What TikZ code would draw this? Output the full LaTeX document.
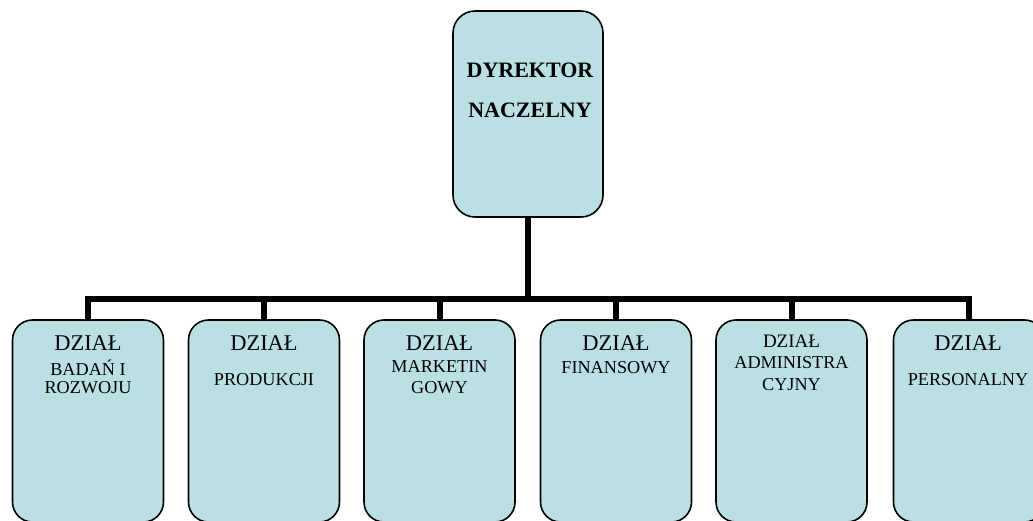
\documentclass[tikz,border=0pt]{standalone}
\usepackage{fontspec}
\setmainfont{Liberation Serif}
\definecolor{boxfill}{RGB}{186,224,228}
\begin{document}
\begin{tikzpicture}[x=1pt,y=-1pt,
  unit/.style={draw=black, line width=1.6pt, fill=boxfill, rounded corners=20pt, inner sep=0pt, minimum width=151pt, minimum height=202pt},
  conn/.style={line width=6pt, line join=miter, line cap=butt},
  lbl/.style={anchor=base, inner sep=0pt},
  big/.style={font=\fontsize{22.5}{26}\selectfont},
  mid/.style={font=\fontsize{19}{23}\selectfont},
  sml/.style={font=\fontsize{18.2}{22}\selectfont},
  head/.style={font=\fontsize{22}{25}\selectfont\bfseries}]
\useasboundingbox (0,0) rectangle (1033,521);
% boxes
\node[unit, minimum width=150pt, minimum height=206pt, rounded corners=22pt] (top) at (528,114) {};
\node[unit] (b1) at (88,421) {};
\node[unit] (b2) at (264,421) {};
\node[unit] (b3) at (439.5,421) {};
\node[unit] (b4) at (616,421) {};
\node[unit] (b5) at (791.5,421) {};
\node[unit] (b6) at (969,421) {};
% connectors
\coordinate (bus) at (528,299);
\draw[conn] (top.south) -- (bus);
\draw[conn] (bus) -| (b1.north);
\draw[conn] (bus) -| (b2.north);
\draw[conn] (bus) -| (b3.north);
\draw[conn] (bus) -| (b4.north);
\draw[conn] (bus) -| (b5.north);
\draw[conn] (bus) -| (b6.north);
% texts
\node[lbl, head] (t1) at (530,78) {DYREKTOR};
\node[lbl, head] (t2) at (530,118) {NACZELNY};
\node[lbl, big] (a1) at (88,350) {DZIAŁ};
\node[lbl, sml] (a2) at (88,375) {BADAŃ I};
\node[lbl, sml] (a3) at (88,393) {ROZWOJU};
\node[lbl, big] (c1) at (264,350) {DZIAŁ};
\node[lbl, sml] (c2) at (264,385) {PRODUKCJI};
\node[lbl, big] (d1) at (439.5,350) {DZIAŁ};
\node[lbl, sml] (d2) at (439.5,372) {MARKETIN};
\node[lbl, sml] (d3) at (439.5,393) {GOWY};
\node[lbl, big] (e1) at (616,350) {DZIAŁ};
\node[lbl, sml] (e2) at (616,373) {FINANSOWY};
\node[lbl, mid] (f1) at (791.5,347) {DZIAŁ};
\node[lbl, sml] (f2) at (791.5,368) {ADMINISTRA};
\node[lbl, sml] (f3) at (791.5,390) {CYJNY};
\node[lbl, big] (g1) at (968,350) {DZIAŁ};
\node[lbl, sml] (g2) at (968,385) {PERSONALNY};
\end{tikzpicture}
\end{document}
